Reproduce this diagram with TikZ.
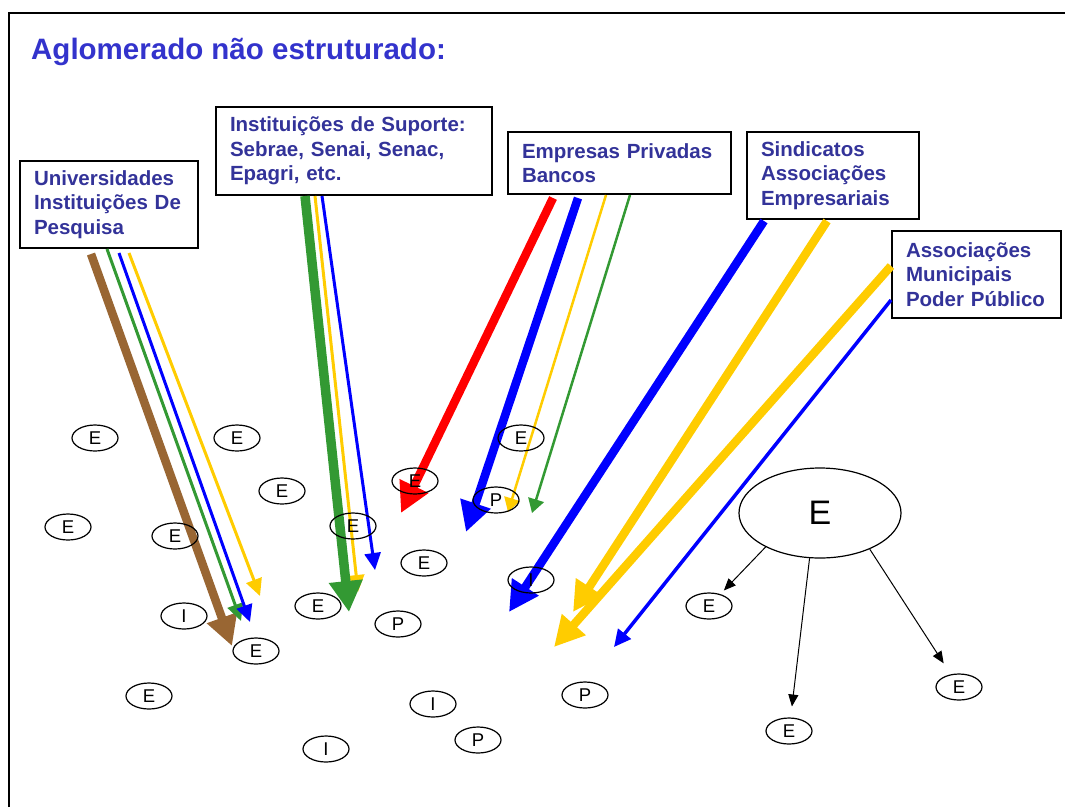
\documentclass[tikz,border=0pt]{standalone}
\usepackage{fontspec}
\setmainfont{Liberation Sans}
\usetikzlibrary{shapes.geometric, arrows.meta}
\definecolor{titleblue}{RGB}{51,51,204}
\definecolor{boxblue}{RGB}{51,51,153}
\definecolor{linkbrown}{RGB}{153,102,51}
\definecolor{linkgreen}{RGB}{51,153,51}
\definecolor{linkyellow}{RGB}{255,204,0}
\tikzstyle{actor} = [draw, rectangle, line width=2pt, anchor=north west, align=left, inner xsep=14pt, inner ysep=0pt, text=boxblue, font=\bfseries\fontsize{20.5}{24.6}\selectfont]
\tikzstyle{firm} = [draw, ellipse, line width=1.2pt, minimum width=46pt, minimum height=26pt, inner sep=0pt, font=\fontsize{18.5}{18.5}\selectfont]
\tikzstyle{heavy} = [line width=8.5pt, -{Triangle[length=30pt, width=30pt]}]
\tikzstyle{light} = [line width=3pt, -{Triangle[length=17pt, width=16pt]}]
\tikzstyle{fine} = [line width=2.5pt, -{Triangle[length=14pt, width=16pt]}]
\tikzstyle{spin} = [line width=1pt, -{Triangle[length=12pt, width=10pt]}]

\begin{document}
\begin{tikzpicture}[x=1pt, y=-1pt]
  \useasboundingbox (0,0) rectangle (1065,807);
  \draw [line width=2pt] (9,807) -- (9,13) -- (1065,13);
  \node [anchor=base west, inner sep=0pt, text=titleblue, font=\bfseries\fontsize{29.5}{35}\selectfont] (title) at (31,59) {Aglomerado não estruturado:};

  % actors
  \node [actor, text width=150pt, minimum height=87pt] (univ) at (19,160) {Universidades\\Instituições De\\Pesquisa};
  \node [actor, text width=248pt, minimum height=88pt] (inst) at (215,106) {Instituições de Suporte:\\Sebrae, Senai, Senac,\\Epagri, etc.};
  \node [actor, text width=195pt, minimum height=62pt] (empr) at (507,131) {Empresas Privadas\\Bancos};
  \node [actor, text width=144pt, minimum height=87pt] (sind) at (746,131) {Sindicatos\\Associações\\Empresariais};
  \node [actor, text width=141pt, minimum height=87pt] (assoc) at (891,230) {Associações\\Municipais\\Poder Público};

  % arrow tips
  \coordinate (univbrown) at (232,646);
  \coordinate (univgreen) at (241,621);
  \coordinate (univblue) at (250,622);
  \coordinate (univyellow) at (260,596);
  \coordinate (instgreen) at (349,612);
  \coordinate (instyellow) at (358,592);
  \coordinate (instblue) at (375,570);
  \coordinate (emprred) at (401,513);
  \coordinate (emprblue) at (466,532);
  \coordinate (empryellow) at (508,512);
  \coordinate (emprgreen) at (532,513);
  \coordinate (sindblue) at (509,612);
  \coordinate (sindyellow) at (573,612);
  \coordinate (assocyellow) at (554,647);
  \coordinate (assocblue) at (614,647);

  \draw [heavy, linkbrown] ([xshift=72pt, yshift=-5pt]univ.south west) -- (univbrown);
  \draw [light, linkgreen] ([xshift=88pt]univ.south west) -- (univgreen);
  \draw [light, blue] ([xshift=100pt, yshift=-4pt]univ.south west) -- (univblue);
  \draw [light, linkyellow] ([xshift=110pt, yshift=-4pt]univ.south west) -- (univyellow);

  \draw [light, linkyellow] ([xshift=100pt]inst.south west) -- (instyellow);
  \draw [heavy, linkgreen, line width=9.5pt, -{Triangle[length=31pt, width=32pt]}] ([xshift=90pt]inst.south west) -- (instgreen);
  \draw [light, blue] ([xshift=107pt]inst.south west) -- (instblue);

  \draw [heavy, red] ([xshift=46pt, yshift=-3pt]empr.south west) -- (emprred);
  \draw [heavy, blue] ([xshift=71pt, yshift=-3pt]empr.south west) -- (emprblue);
  \draw [fine, linkyellow] ([xshift=99pt]empr.south west) -- (empryellow);
  \draw [fine, linkgreen] ([xshift=123pt]empr.south west) -- (emprgreen);

  \draw [heavy, blue] ([xshift=18pt, yshift=-1pt]sind.south west) -- (sindblue);
  \draw [heavy, linkyellow] ([xshift=81pt, yshift=-1pt]sind.south west) -- (sindyellow);

  \draw [heavy, linkyellow] ([yshift=-36pt]assoc.north west) -- (assocyellow);
  \draw [light, blue, line width=3.5pt] ([yshift=-70pt]assoc.north west) -- (assocblue);

  % firms
  \node [firm] (f1) at (95,438) {E};
  \node [firm] (f2) at (237,438) {E};
  \node [firm] (f3) at (282,491) {E};
  \node [firm] (f4) at (68,527) {E};
  \node [firm] (f5) at (175,536) {E};
  \node [firm] (f6) at (353,526) {E};
  \node [firm] (f7) at (415,481) {E};
  \node [firm] (f8) at (521,438) {E};
  \node [firm] (f9) at (496,500) {P};
  \node [firm] (f10) at (424,563) {E};
  \node [firm] (f11) at (531,580) {I};
  \node [firm] (f12) at (184,616) {I};
  \node [firm] (f13) at (318,606) {E};
  \node [firm] (f14) at (398,624) {P};
  \node [firm] (f15) at (256,651) {E};
  \node [firm] (f16) at (149,696) {E};
  \node [firm] (f17) at (433,704) {I};
  \node [firm] (f18) at (478,740) {P};
  \node [firm] (f19) at (326,749) {I};
  \node [firm] (f20) at (585,695) {P};
  \node [firm] (f21) at (709,606) {E};
  \node [firm] (f22) at (789,731) {E};
  \node [firm] (f23) at (959,687) {E};
  \node [firm, minimum width=162pt, minimum height=90pt, font=\fontsize{34}{34}\selectfont] (bigE) at (820,513) {E};

  \draw [spin, shorten >=5pt] (bigE.212.7) -- (f21);
  \draw [spin, shorten >=11pt] (bigE.257.5) -- (f22);
  \draw [spin, shorten >=13pt] (bigE.324.3) -- (f23);
\end{tikzpicture}
\end{document}
